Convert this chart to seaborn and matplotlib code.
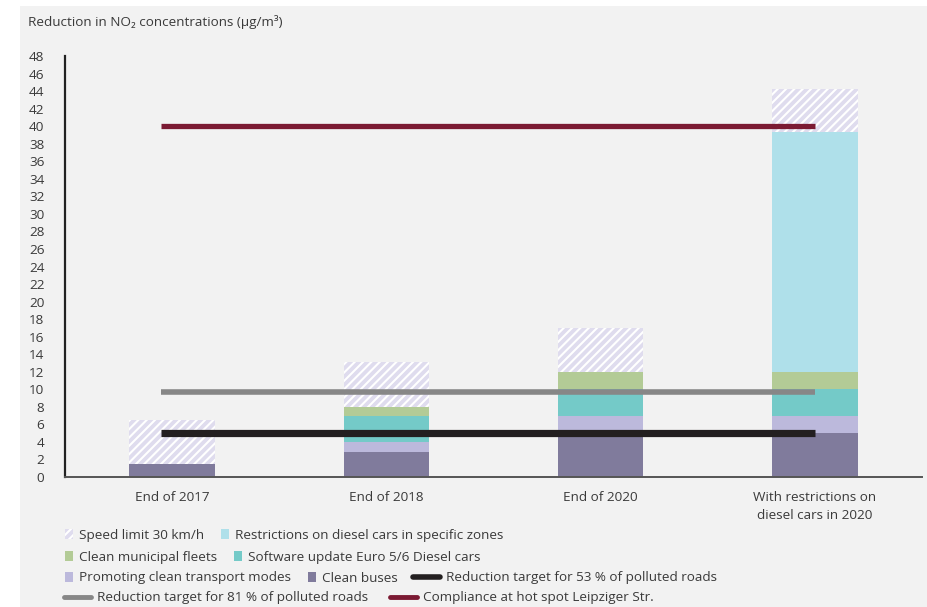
import matplotlib
matplotlib.use("Agg")
from matplotlib import pyplot as plt
from matplotlib.patches import Patch, Rectangle
from matplotlib.lines import Line2D
import seaborn as sns
import numpy as np
import pandas as pd

# 数据：每个阶段各项措施带来的NO2降幅 (µg/m³)
categories = ["End of 2017", "End of 2018", "End of 2020", "With restrictions on\ndiesel cars in 2020"]
clean_buses = [1.5, 2.9, 5.0, 5.0]
promoting_modes = [0.0, 1.1, 2.0, 2.0]
software_update = [0.0, 3.0, 3.0, 3.0]
municipal_fleets = [0.0, 1.0, 2.0, 2.0]
diesel_restrictions = [0.0, 0.0, 0.0, 27.3]
speed_limit = [5.0, 5.15, 5.0, 4.9]

target_53 = 5.0
target_81 = 9.7
leipziger_str = 40.0

layer_names = ["Clean buses", "Promoting clean transport modes", "Software update Euro 5/6 Diesel cars",
               "Clean municipal fleets", "Restrictions on diesel cars in specific zones", "Speed limit 30 km/h"]
layer_values = [clean_buses, promoting_modes, software_update, municipal_fleets, diesel_restrictions, speed_limit]
layer_colors = ["#807b9c", "#bcb9dc", "#74cac8", "#b3cb96", "#afe0ea", "#dfdcee"]

sns.set_style("white")
plt.rcParams['font.family'] = ['Open Sans', 'DejaVu Sans']
plt.rcParams['hatch.linewidth'] = 1.5
text_color = "#3a3a3a"
fs = 9.7

fig = plt.figure(figsize=(9.28, 6.07), dpi=100)
fig.patch.set_facecolor("white")
# 灰色背景面板
fig.patches.append(Rectangle((20 / 928, 0), 1, 601 / 607, transform=fig.transFigure,
                             facecolor="#f2f2f2", edgecolor="none", zorder=-10))

ax = fig.add_axes([65 / 928, 130 / 607, 857 / 928, 421 / 607])
ax.set_facecolor("#f2f2f2")

# 累计高度，从最高层往下画，下层覆盖上层
cum = np.cumsum(np.array(layer_values), axis=0)
for i in range(len(layer_names) - 1, -1, -1):
    df = pd.DataFrame({"cat": categories, "val": cum[i]})
    if i == len(layer_names) - 1:
        sns.barplot(data=df, x="cat", y="val", ax=ax, color=layer_colors[i], width=0.4,
                    saturation=1, errorbar=None, hatch="////", edgecolor="white", linewidth=0)
    else:
        sns.barplot(data=df, x="cat", y="val", ax=ax, color=layer_colors[i], width=0.4,
                    saturation=1, errorbar=None, linewidth=0)

# 目标线
ax.hlines(leipziger_str, -0.05, 3.0, color="#7b1a33", lw=3.8, zorder=5)
ax.hlines(target_81, -0.05, 3.0, color="#878787", lw=4.0, zorder=5)
ax.hlines(target_53, -0.05, 3.0, color="#231f20", lw=5.2, zorder=5)

ax.set_xlim(-0.5, 3.5)
ax.set_ylim(0, 48)
ax.set_yticks(range(0, 49, 2))
ax.set_xlabel("")
ax.set_ylabel("")
for s in ["top", "right"]:
    ax.spines[s].set_visible(False)
ax.spines["left"].set_color("#222222")
ax.spines["left"].set_linewidth(1.6)
ax.spines["bottom"].set_color("#555555")
ax.spines["bottom"].set_linewidth(1.4)
ax.tick_params(axis="y", length=5.8, width=1.4, color="#222222", pad=9, labelsize=fs, labelcolor=text_color)
ax.tick_params(axis="x", length=0, pad=10, labelsize=fs, labelcolor=text_color)
for t in ax.get_xticklabels():
    t.set_linespacing(1.5)

fig.text(28 / 928, 1 - 22 / 607, "Reduction in NO₂ concentrations (µg/m³)", fontsize=fs,
         color=text_color, va="center", ha="left")

# 图例：按行排列
patch_handles = {}
for name, c in zip(layer_names, layer_colors):
    if name == "Speed limit 30 km/h":
        patch_handles[name] = Patch(facecolor=c, edgecolor="white", hatch="////", lw=0)
    else:
        patch_handles[name] = Patch(facecolor=c, edgecolor="none", lw=0)
line_handles = {
    "Reduction target for 53 % of polluted roads": Line2D([], [], color="#231f20", lw=4),
    "Reduction target for 81 % of polluted roads": Line2D([], [], color="#878787", lw=3.5),
    "Compliance at hot spot Leipziger Str.": Line2D([], [], color="#7b1a33", lw=3.5),
}

legend_rows = [
    (["Speed limit 30 km/h", "Restrictions on diesel cars in specific zones"], 65, 535, "patch"),
    (["Clean municipal fleets", "Software update Euro 5/6 Diesel cars"], 65, 557, "patch"),
    (["Promoting clean transport modes", "Clean buses"], 65, 578, "patch"),
    (["Reduction target for 53 % of polluted roads"], 413, 578, "line"),
    (["Reduction target for 81 % of polluted roads", "Compliance at hot spot Leipziger Str."], 64, 598, "line"),
]
fs_px = fs * 100 / 72
for labels, x0, y0, kind in legend_rows:
    if kind == "patch":
        handles = [patch_handles[l] for l in labels]
        hl = 8 / fs_px
        cs = 17 / fs_px
    else:
        handles = [line_handles[l] for l in labels]
        hl = 27 / fs_px
        cs = 22 / fs_px
    leg = fig.legend(handles, labels, loc="center left", bbox_to_anchor=(x0 / 928, 1 - y0 / 607),
                     ncol=len(labels), frameon=False, fontsize=fs, handlelength=hl,
                     handleheight=0.75, handletextpad=6 / fs_px, columnspacing=cs,
                     borderpad=0, borderaxespad=0, labelcolor=text_color)

plt.savefig("out.png", dpi=100, facecolor=fig.get_facecolor())
